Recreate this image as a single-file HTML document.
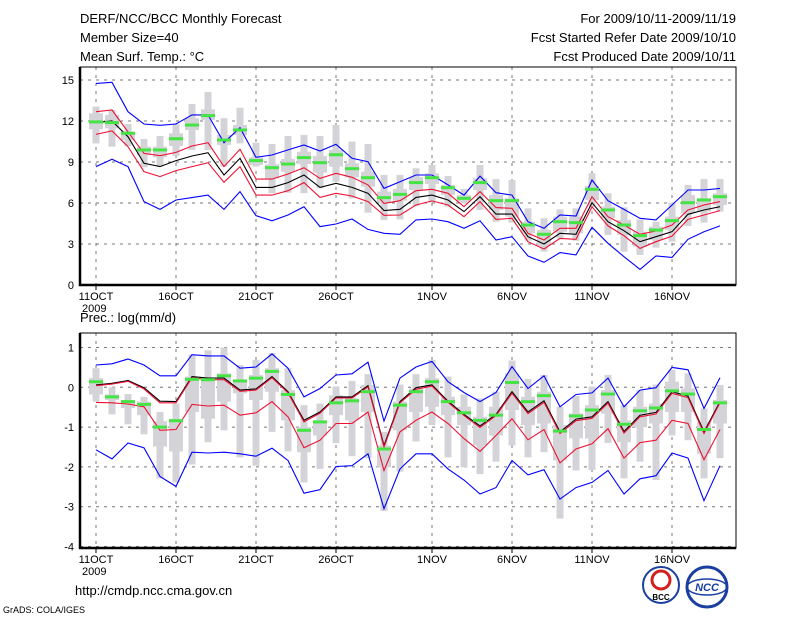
<!DOCTYPE html>
<html><head><meta charset="utf-8"><style>
body{margin:0;background:#fff;width:800px;height:618px;overflow:hidden}
svg text{font-family:"Liberation Sans",sans-serif;fill:#000}
</style></head><body>
<svg id="c" width="800" height="618" xmlns="http://www.w3.org/2000/svg">
<text x="80" y="23" font-size="13">DERF/NCC/BCC Monthly Forecast</text>
<text x="80" y="42" font-size="13">Member Size=40</text>
<text x="80" y="61" font-size="13">Mean Surf. Temp.: °C</text>
<text x="736" y="23" font-size="13" text-anchor="end">For 2009/10/11-2009/11/19</text>
<text x="736" y="42" font-size="13" text-anchor="end">Fcst Started Refer Date 2009/10/10</text>
<text x="736" y="61" font-size="13" text-anchor="end">Fcst Produced Date 2009/10/11</text>
<text x="80" y="322" font-size="13">Prec.: log(mm/d)</text>
<text x="75" y="595" font-size="13">http://cmdp.ncc.cma.gov.cn</text>
<text x="3" y="613" font-size="9">GrADS: COLA/IGES</text>
<g>
<circle cx="661" cy="585" r="18" fill="#fff" stroke="#1a3fa0" stroke-width="2"/>
<circle cx="661" cy="580" r="9" fill="none" stroke="#d02020" stroke-width="3"/>
<text x="661" y="600" font-size="8" text-anchor="middle" font-weight="bold">BCC</text></g>
<g>
<circle cx="707" cy="587" r="20" fill="#fff" stroke="#1a3fa0" stroke-width="3"/>
<ellipse cx="707" cy="587" rx="20" ry="8" fill="none" stroke="#1a3fa0" stroke-width="1.5"/>
<text x="707" y="591" font-size="11" text-anchor="middle" font-style="italic" font-weight="bold" style="fill:#1a3fa0">NCC</text></g>
<g id="g"></g>
</svg>
<script>
// ---- Top panel: temperature (°C), days 0..39 from 11 Oct ----
const tBlueHi=[14.75,14.83,12.68,11.78,11.68,11.78,12.44,12.44,10.41,11.51,9.34,9.51,9.88,10.24,9.8,10.29,9.27,9.02,7.07,7.56,8.05,8.05,7.32,6.58,7.97,6.75,6.58,4.63,4.15,5.12,5.05,7.68,6.17,5.53,4.88,4.76,5.85,6.95,6.95,7.07];
const tBlueLo=[8.66,9.2,8.66,6.1,5.53,6.22,6.39,6.58,5.53,6.83,5.07,4.7,5.12,5.73,4.27,4.46,4.83,4.07,3.78,3.71,4.76,4.83,4.63,4.15,4.7,3.29,3.53,2.12,1.66,2.37,2.2,4.22,3.05,2.07,1.14,2.12,2.02,3.34,3.9,4.32];
const tRedHi=[12.68,12.8,11.2,9.63,9.46,9.7,10.17,10.41,8.66,9.93,7.75,7.75,8.12,8.58,7.8,8.17,7.88,7.32,5.97,6.17,6.9,7.0,6.71,5.73,6.83,5.66,5.61,3.78,3.29,4.15,4.15,6.46,5.0,4.39,3.71,3.95,4.39,5.49,5.85,6.1];
const tMean=[11.88,12.0,10.85,8.9,8.66,9.1,9.44,9.68,8.05,9.27,7.14,7.14,7.49,8.05,7.14,7.44,7.14,6.71,5.44,5.54,6.41,6.58,6.22,5.37,6.46,5.19,5.19,3.53,3.0,3.78,3.71,6.02,4.63,3.97,3.17,3.53,3.9,5.17,5.49,5.73];
const tRedLo=[11.02,11.27,10.12,8.29,7.93,8.37,8.66,8.95,7.51,8.66,6.58,6.58,6.9,7.49,6.41,6.71,6.51,6.1,5.1,5.12,5.85,6.15,5.85,5.0,6.1,4.8,4.88,3.17,2.63,3.41,3.34,5.73,4.32,3.61,2.68,3.17,3.58,4.8,5.12,5.44];
const tGreen=[11.93,11.88,11.1,9.88,9.88,10.7,11.7,12.39,10.61,11.34,9.1,8.58,8.85,9.32,8.95,9.53,8.51,7.85,6.39,6.63,7.49,7.85,7.12,6.34,7.49,6.17,6.17,4.39,3.71,4.63,4.56,7.0,5.49,4.39,3.61,4.02,4.71,6.02,6.22,6.46];
const tWhHi=[13.05,12.8,11.78,10.68,10.9,11.76,13.24,14.12,12.2,12.97,10.41,10.32,10.9,10.97,10.9,11.71,10.49,10.32,8.05,8.05,8.54,8.78,7.97,7.02,8.78,7.75,7.68,5.61,4.88,5.53,5.61,8.17,6.71,5.68,4.8,4.63,6.02,7.32,7.75,7.75];
const tBoxHi=[12.56,12.44,11.22,10.12,10.12,11.1,12.2,12.85,10.97,11.71,9.34,8.83,9.22,9.75,9.44,9.88,8.9,8.29,6.83,7.02,7.88,8.17,7.32,6.58,7.8,6.58,6.34,4.63,4.02,5.0,5.0,7.24,5.73,4.76,3.9,4.27,5.0,6.58,6.34,6.71];
const tBoxLo=[11.39,11.46,10.61,9.51,9.34,10.17,11.34,12.07,10.24,10.97,8.78,7.8,8.29,8.85,8.22,8.66,7.88,7.2,6.02,6.17,6.95,7.39,6.58,6.1,6.95,5.49,5.0,3.78,2.85,3.9,3.78,6.22,4.88,3.66,2.8,3.29,4.02,5.24,5.37,5.85];
const tWhLo=[10.36,10.12,10.17,8.61,8.66,9.44,9.88,9.88,8.66,10.36,8.66,6.71,6.75,6.71,7.07,7.56,6.34,5.29,4.76,4.8,5.78,6.02,5.73,5.97,5.49,4.63,4.56,3.24,2.44,3.41,3.24,5.73,3.66,2.44,2.2,2.73,3.17,4.32,4.56,5.37];
const tTicks=[0,3,6,9,12,15];
// ---- Bottom panel: precipitation log(mm/d) ----
const pBlueHi=[0.56,0.59,0.71,0.56,0.29,0.29,0.82,0.79,0.79,0.48,0.51,0.84,0.48,-0.24,-0.03,0.31,0.34,0.63,-0.85,0.23,0.51,0.65,0.14,-0.13,-0.36,-0.13,0.52,-0.03,0.29,-0.49,-0.18,-0.14,0.23,-0.49,-0.07,-0.01,0.5,0.44,-0.53,0.24];
const pBlueLo=[-1.57,-1.8,-1.4,-1.52,-2.24,-2.49,-1.63,-1.65,-1.63,-1.67,-1.73,-1.53,-1.84,-2.66,-2.57,-1.99,-1.97,-1.67,-3.05,-2.05,-1.67,-1.67,-2.05,-2.33,-2.68,-2.52,-1.84,-2.2,-2.07,-2.81,-2.52,-2.39,-2.09,-2.68,-2.3,-2.22,-1.65,-1.78,-2.85,-1.97];
const pMean=[0.06,0.1,0.17,-0.01,-0.35,-0.36,0.27,0.23,0.23,-0.07,-0.04,0.27,-0.11,-0.83,-0.62,-0.24,-0.24,0.04,-1.46,-0.36,-0.01,0.06,-0.35,-0.68,-0.97,-0.68,-0.11,-0.62,-0.34,-1.12,-0.8,-0.74,-0.36,-1.11,-0.7,-0.63,-0.11,-0.22,-1.12,-0.36];
const pRedHi=[0.04,0.08,0.15,-0.04,-0.39,-0.39,0.24,0.19,0.19,-0.1,-0.07,0.24,-0.14,-0.87,-0.65,-0.27,-0.27,0.01,-1.5,-0.39,-0.05,0.03,-0.38,-0.71,-1.01,-0.71,-0.15,-0.66,-0.38,-1.16,-0.84,-0.78,-0.4,-1.15,-0.74,-0.67,-0.15,-0.26,-1.16,-0.39];
const pRedLo=[-0.38,-0.39,-0.42,-0.49,-1.08,-1.06,-0.43,-0.47,-0.45,-0.7,-0.64,-0.36,-0.74,-1.52,-1.33,-0.91,-0.91,-0.62,-2.09,-1.12,-0.83,-0.62,-0.91,-1.29,-1.61,-1.21,-0.79,-1.32,-1.06,-1.9,-1.55,-1.42,-1.04,-1.78,-1.39,-1.33,-0.83,-0.91,-1.82,-1.06];
const pGreen=[0.14,-0.24,-0.36,-0.43,-1.0,-0.84,0.2,0.19,0.29,0.16,0.23,0.4,-0.18,-1.08,-0.87,-0.39,-0.34,-0.11,-1.55,-0.45,-0.11,0.14,-0.36,-0.64,-0.83,-0.7,0.12,-0.36,-0.21,-1.1,-0.72,-0.57,-0.17,-0.93,-0.59,-0.52,-0.09,-0.17,-1.06,-0.39];
const pWhHi=[0.48,0.0,-0.17,-0.24,-0.62,-0.41,0.82,0.93,1.0,0.56,0.69,0.86,0.48,-0.45,-0.41,0.02,0.16,0.33,-1.12,0.07,0.33,0.69,0.27,-0.18,-0.28,-0.11,0.67,0.21,0.31,-0.49,-0.22,0.02,0.31,-0.45,-0.07,0.07,0.44,0.35,-0.53,0.06];
const pBoxHi=[0.23,-0.18,-0.32,-0.36,-0.85,-0.79,0.27,0.23,0.35,0.18,0.31,0.48,-0.07,-1.0,-0.83,-0.2,-0.28,0.06,-1.46,-0.36,-0.03,0.23,-0.24,-0.49,-0.74,-0.49,0.35,-0.24,-0.11,-0.95,-0.66,-0.45,-0.07,-0.83,-0.49,-0.41,0.14,-0.03,-0.87,-0.32];
const pBoxLo=[-0.18,-0.32,-0.52,-0.7,-1.49,-1.61,-0.62,-0.79,-0.36,-0.15,-0.32,-0.11,-0.83,-1.63,-1.21,-0.7,-0.83,-0.62,-2.01,-1.08,-0.62,-0.49,-0.7,-0.95,-1.46,-1.21,-0.57,-0.95,-0.91,-1.84,-1.28,-1.29,-0.66,-1.38,-1.0,-0.91,-0.62,-0.62,-1.67,-0.91];
const pWhLo=[-0.36,-0.68,-0.93,-1.18,-2.29,-2.39,-1.94,-1.38,-1.08,-1.76,-1.97,-1.12,-1.61,-2.39,-2.05,-1.4,-1.73,-1.78,-3.11,-2.12,-1.36,-0.95,-1.76,-2.01,-2.18,-1.87,-1.46,-1.76,-1.63,-3.3,-2.09,-2.08,-1.4,-2.29,-1.87,-2.33,-1.21,-1.33,-2.29,-1.78];
const pTicks=[1,0,-1,-2,-3,-4];
const xLabels=["11OCT","16OCT","21OCT","26OCT","1NOV","6NOV","11NOV","16NOV"];
const xLabelDays=[0,5,10,15,21,26,31,36];

const NS="http://www.w3.org/2000/svg";
const G=document.getElementById('g');
const X=d=>96+d*16;
function mk(tag,attrs,parent){const e=document.createElementNS(NS,tag);for(const k in attrs)e.setAttribute(k,attrs[k]);(parent||G).appendChild(e);return e;}

function panel(name,top,bottom,Y,ticks,series,gray,green,lblY){
  const grp=mk('g',{});
  
  
  // grid
  ticks.forEach(t=>{const l=mk('line',{x1:80,x2:736,y1:Y(t),y2:Y(t),stroke:'#777','stroke-dasharray':'3,5'},grp);
    
    
    const tx=mk('text',{x:74,y:Y(t)+4,'font-size':11,'text-anchor':'end'},grp);tx.textContent=t;
    
    });
  xLabelDays.forEach((d,i)=>{const l=mk('line',{x1:X(d),x2:X(d),y1:top,y2:bottom,stroke:'#777','stroke-dasharray':'3,5'},grp);
    
    
    mk('line',{x1:X(d),x2:X(d),y1:bottom,y2:bottom+5,stroke:'#000'},grp);
    const tx=mk('text',{x:X(d),y:bottom+15,'font-size':11,'text-anchor':'middle'},grp);tx.textContent=xLabels[i];
    
    });
  const yr=mk('text',{x:82,y:bottom+27,'font-size':11},grp);yr.textContent='2009';
  
  
  // gray boxes
  for(let d=0;d<40;d++){
    const w=mk('rect',{x:X(d)-3.5,y:Y(gray[0][d]),width:7,height:Math.max(1,Y(gray[3][d])-Y(gray[0][d])),fill:'#d4d4d8'},grp);
    
    
    const b=mk('rect',{x:X(d)-7,y:Y(gray[1][d]),width:14,height:Math.max(1,Y(gray[2][d])-Y(gray[1][d])),fill:'#d4d4d8'},grp);
    
    
  }
  series.forEach(s=>{const p=mk('polyline',{points:s[0].map((v,d)=>X(d)+','+Y(v).toFixed(1)).join(' '),fill:'none',stroke:s[1],'stroke-width':1.1},grp);
    
    });
  green.forEach((v,d)=>{const r=mk('rect',{x:X(d)-7,y:Y(v)-1.5,width:14,height:3,fill:'#44e444'},grp);
    
    });
  const f=mk('rect',{x:80,y:top,width:656,height:bottom-top,fill:'none',stroke:'#000','stroke-width':1},grp);
  
  
  const ax=mk('polyline',{points:`80,${top} 80,${bottom} 736,${bottom}`,fill:'none',stroke:'#000','stroke-width':2.5},grp);
  
  
}
const YT=v=>285-v*13.67;
const YB=v=>387.3-v*39.8;
panel('temperature-panel',67,285,YT,tTicks,
 [[tBlueHi,'#0000ff','blue-upper-line'],[tBlueLo,'#0000ff','blue-lower-line'],[tRedHi,'#ee1133','red-upper-line'],[tRedLo,'#ee1133','red-lower-line'],[tMean,'#000','mean-line']],
 [tWhHi,tBoxHi,tBoxLo,tWhLo],tGreen);
panel('precipitation-panel',333,548,YB,pTicks,
 [[pBlueHi,'#0000ff','blue-upper-line'],[pBlueLo,'#0000ff','blue-lower-line'],[pRedLo,'#ee1133','red-lower-line'],[pMean,'#000','mean-line'],[pRedHi,'#ee1133','red-upper-line']],
 [pWhHi,pBoxHi,pBoxLo,pWhLo],pGreen);
</script>
</body></html>
